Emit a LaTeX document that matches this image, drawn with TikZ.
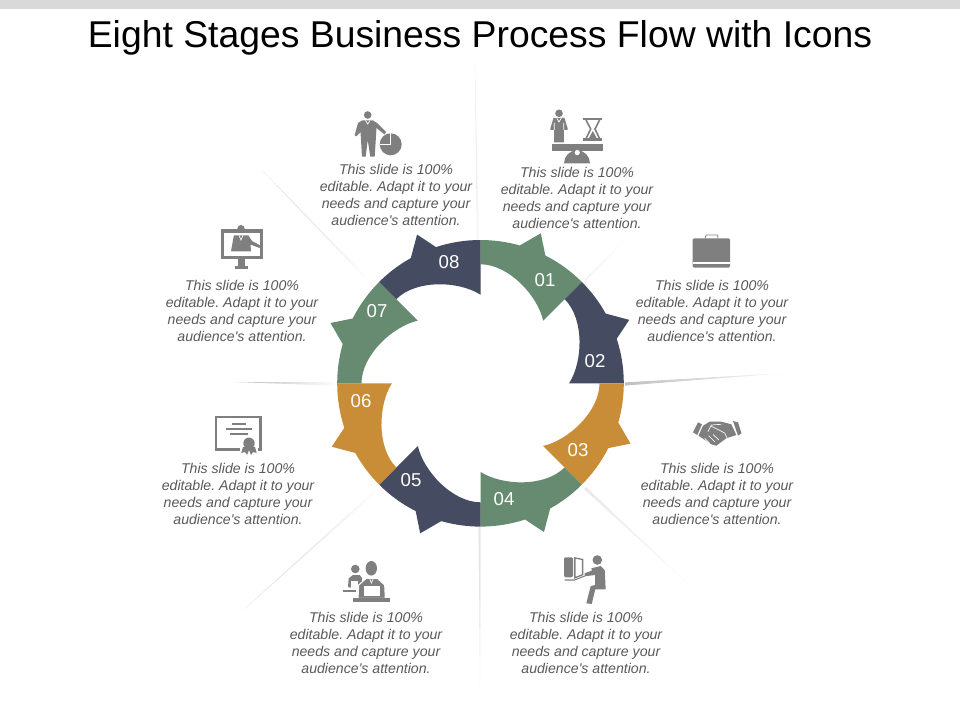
\documentclass[tikz,border=0pt]{standalone}
\usepackage{fontspec}
\setmainfont{Liberation Sans}[Ligatures=TeXOff]
\frenchspacing
\definecolor{ringgreen}{HTML}{668B71}
\definecolor{ringnavy}{HTML}{454B60}
\definecolor{ringgold}{HTML}{C98C37}
\definecolor{icongray}{HTML}{7F7F7F}
\definecolor{textgray}{HTML}{595959}
\newcommand{\blurbtext}{This slide is 100\%\\editable. Adapt it to your\\needs and capture your\\audience's attention.}
\begin{document}
\begin{tikzpicture}[x=0.75pt,y=-0.75pt,
 title/.style = {font=\fontsize{28}{32}\selectfont, text=black},
 stagenum/.style = {font=\fontsize{14}{16}\selectfont, text=white},
 blurb/.style = {font=\fontsize{10.6}{12.75}\selectfont\itshape, text=textgray, align=center},
 icon/.style = {fill=icongray, draw=none},
 gap/.style = {fill=white, draw=none}
]
\useasboundingbox (0,0) rectangle (960,720);
\fill[gray!30] (0,0) rectangle (960,9);
% spokes
\foreach \sx/\sy/\sa/\sl/\sw/\sc in {
   625/384/3.9/175/1.6/50, 338/384/178.9/103/1.8/55, 478/240/91/180/1.2/16,
   480/527/-90/158/1.4/24, 370/282/134/155/1.5/28, 585/280/45/90/0.8/10,
   585/488/-43/171/1.4/18, 380/487/222/183/1.5/30}{
  \begin{scope}[shift={(\sx,\sy)},rotate=\sa,y=0.75pt]
    \shade[left color=gray!\sc,right color=white] (0,-\sw) -- (\sl,0) -- (0,\sw) -- cycle;
  \end{scope}
}
% ring
\foreach \k/\col in {0/ringgreen,1/ringnavy,2/ringgold,3/ringgreen,4/ringnavy,5/ringgold,6/ringgreen,7/ringnavy}{
  \begin{scope}[shift={(480.5,383.3)},rotate=-45*\k,y=0.75pt]
    \fill[\col] (90:143.3) arc[start angle=90,end angle=74.1,radius=143.3]
      -- (68.1:161.7) -- (63.1:143.3) arc[start angle=63.1,end angle=45,radius=143.3]
      -- (45:88.6) .. controls (57,88) and (28,119) .. (0,119) -- cycle;
  \end{scope}
}
\node (title) [title] at (480,37.5) {Eight Stages Business Process Flow with Icons};
\node (num1) [stagenum] at (545,280) {01};
\node (num2) [stagenum] at (595,361) {02};
\node (num3) [stagenum] at (578,450) {03};
\node (num4) [stagenum] at (504,499) {04};
\node (num5) [stagenum] at (411,480) {05};
\node (num6) [stagenum] at (361,401) {06};
\node (num7) [stagenum] at (377,311) {07};
\node (num8) [stagenum] at (449,262) {08};
\node (text1) [blurb] at (577,198) {\blurbtext};
\node (text2) [blurb] at (712,310.5) {\blurbtext};
\node (text3) [blurb] at (717,493.5) {\blurbtext};
\node (text4) [blurb] at (586,643) {\blurbtext};
\node (text5) [blurb] at (366,643) {\blurbtext};
\node (text6) [blurb] at (238,493.5) {\blurbtext};
\node (text7) [blurb] at (242,310.5) {\blurbtext};
\node (text8) [blurb] at (396,194.5) {\blurbtext};
% icon 01
\fill[icon] (559,113.3) circle[radius=3.8];
\fill[icon] (553.5,118) -- (564.5,118) -- (567.7,128.5) -- (567.7,130) -- (564,130) -- (563.8,142.3) -- (554.2,142.3)
  -- (554,130) -- (550.3,130) -- (550.3,128.5) -- cycle;
\draw[white,line width=0.5pt] (556.7,118) -- (559,122) -- (561.3,118) (554.3,123) -- (554.3,130) (563.7,123) -- (563.7,130);
\fill[icon] (552.3,144.3) rectangle (603.3,151);
\fill[icon] (564,163.3) arc[start angle=180,end angle=360,radius=13];
\fill[gap] (577.3,152.6) circle[radius=2.6];
\fill[icon] (583.3,117.7) rectangle (602.3,120.2);
\fill[icon] (583.3,138.5) rectangle (602.3,141);
\draw[icongray,line width=1.2pt] (586,120) -- (590.7,129) -- (586,138.7) (599.6,120) -- (595,129) -- (599.6,138.7);
\fill[icon] (592.8,131) -- (597,138.7) -- (588.6,138.7) -- cycle;
% icon 02
\fill[icon,rounded corners=1pt] (692.7,238.3) rectangle (730,267.7);
\fill[gap] (692.7,261.8) rectangle (730,263.6);
\draw[icongray,line width=0.6pt] (705,238.3) -- (706,235) -- (717.6,235) -- (718,238.3);
% icon 03
\fill[icon] (693,432.3) -- (698,422.3) -- (702,424.3) -- (697.3,435) -- cycle;
\fill[icon] (733,421) -- (738,422.3) -- (741.5,433.3) -- (738,435.7) -- cycle;
\fill[icon] (703,425.7) -- (709.7,421.7) -- (721.3,421.7) -- (731.3,424.3) -- (736.3,435) -- (726.3,438.3)
  -- (716.3,445.7) -- (711.3,444.3) -- (698.5,435.7) -- cycle;
\draw[white,line width=0.5pt] (708,431.7) -- (711.3,425) -- (721.3,424.3) (711,426) -- (724.7,433) -- (727,438)
  (704.7,438.3) -- (709.7,443.3) (708.7,435.7) -- (714.7,441.7) (713,434.5) -- (719,440);
% icon 04
\fill[icon,rounded corners=1pt] (564,557.3) rectangle (573,577.3);
\draw[icongray,line width=1pt] (574.9,557.9) -- (582.6,559.5) -- (582.6,574.7) -- (574.9,577.8) -- cycle;
\draw[icongray,line width=0.8pt] (564.7,580) -- (574.7,580) -- (584.7,576);
\fill[icon] (597.3,560) circle[radius=4.8];
\fill[icon] (591.3,568.3) -- (600.7,566) -- (604.7,570) -- (605.7,589.3) -- (595.3,589.3) -- (591.7,604) -- (586.3,603.3)
  -- (590.7,586) -- (595,585) -- (595,575) -- (584.7,576.3) -- (584.7,573.3) -- (592,570.5) -- cycle;
% icon 05
\fill[icon] (355.3,569) circle[radius=4.3];
\fill[icon] (348,587) -- (348.7,578.3) -- (353,575) -- (359.7,575) -- (362,578) -- (362,590) -- cycle;
\fill[gap] (350.7,581) rectangle (358,590);
\fill[icon] (343,590) rectangle (356.3,592.3);
\fill[icon] (371.3,568.3) ellipse[x radius=5.7,y radius=7.3];
\draw[icon,draw=white,line width=0.8pt] (358,598.3) -- (358.7,585) -- (366.3,578.3) -- (377.3,578.3) -- (384.7,585) -- (385.3,598.3) -- cycle;
\draw[white,line width=0.5pt] (369.5,578.3) -- (371.3,583) -- (373.5,578.3);
\fill[gap] (364,585.7) rectangle (379.7,595.7);
\fill[icon] (353,598.3) rectangle (389.7,601.7);
% icon 06
\draw[icongray,line width=2.2pt] (216,417) rectangle (260.6,449.5);
\fill[gap] (240,440) rectangle (258,452);
\fill[icon] (231.7,422.5) rectangle (246,424.5);
\fill[icon] (226,428) rectangle (252.3,430);
\fill[icon] (230,433.4) rectangle (248.3,435.4);
\fill[icon] (243,447) -- (241.3,453) -- (245,452) -- (247,455) -- (249,450) -- (251,455) -- (253,452) -- (256.7,453) -- (255,447) -- cycle;
\fill[icon] (249,443.3) circle[radius=5.7];
% icon 07
\draw[icongray,line width=2.5pt] (222.6,230.9) rectangle (261.7,257.7);
\fill[icon] (237.7,259) rectangle (245,266);
\fill[icon] (235,266) rectangle (247.7,268.7);
\fill[gap] (235,226) rectangle (247,229.5);
\fill[icon] (241,228.7) circle[radius=3.7];
\fill[icon] (234,235.3) -- (248.3,235.3) -- (252,241) -- (260.5,245.5) -- (259.5,248) -- (250.5,244.5) -- (251,251.3) -- (231,251.3) -- (233,240) -- cycle;
\draw[white,line width=0.5pt] (239,235.3) -- (241,240) -- (243,235.3);
% icon 08
\fill[icon] (367.7,115) circle[radius=3.8];
\fill[icon] (362,120.5) -- (373,120.5) -- (377,123) -- (386,132) -- (384.5,134.5) -- (376.5,128) -- (374.7,156.7) -- (370.3,156.7) -- (367.7,140)
  -- (365.7,156.7) -- (362,156.7) -- (360.5,132) -- (356,136.5) -- (354.7,135) -- (358,123) -- cycle;
\draw[white,line width=0.5pt] (365.5,120.5) -- (367.7,124) -- (370,120.5);
\fill[icon] (390.7,144.3) circle[radius=11];
\draw[white,line width=0.6pt] (379.7,144.3) -- (390.7,144.3) -- (390.7,133.3);
\end{tikzpicture}
\end{document}
